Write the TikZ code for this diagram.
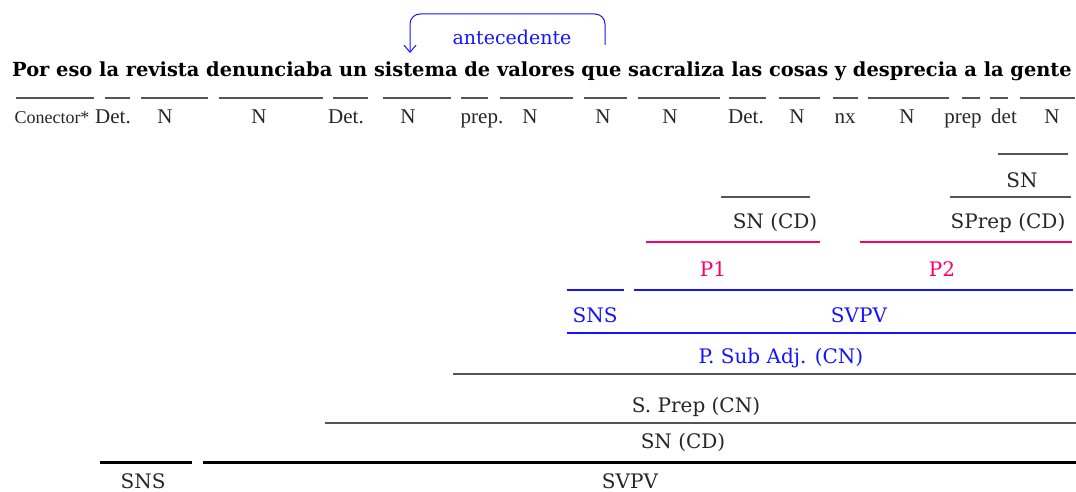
\documentclass[tikz,border=0pt]{standalone}
\usepackage{fontspec}
\setmainfont{DejaVu Serif}
\newfontfamily\tagfont{Liberation Serif}
\usetikzlibrary{arrows.meta}
\definecolor{rosa}{RGB}{255,0,102}
\definecolor{azul}{RGB}{20,20,255}
\definecolor{gris}{RGB}{85,85,85}

\begin{document}
\begin{tikzpicture}[x=1pt,y=-1pt,
                   lbl/.style={anchor=base,inner sep=0pt,text=black!85,font=\fontsize{20}{22}\selectfont},
                   tag/.style={anchor=base,inner sep=0pt,text=black!85,font=\tagfont\fontsize{21}{23}\selectfont},
                   fina/.style={draw=gris,line width=1.3pt},
                   gruesa/.style={line width=2.6pt}]
\useasboundingbox (0,0) rectangle (1076,492);
% oracion
\node[anchor=base,inner sep=0pt,font=\bfseries\fontsize{19.4}{22}\selectfont] (frase) at (542,77)
  {Por eso la revista denunciaba un sistema de valores que sacraliza las cosas y desprecia a la gente};
\node[lbl,text=azul,font=\fontsize{19}{21}\selectfont] (ante) at (512,45) {antecedente};
\coordinate (que) at (605,45);
\coordinate (sistema) at (410,53);
\draw[azul,line width=1pt,-{Straight Barb[length=7pt,width=12pt]},rounded corners=10pt]
  (que) -- (605,14) -- (410,14) -- (sistema);
% categorias
\foreach \a/\b/\c/\t [count=\i] in {105/130/113/Det., 141/208/165/N, 219/323/259/N, 333/368/346/Det.,
    383/451/408/N, 461/488/482/prep., 500/573/530/N, 584/627/603/N, 638/720/670/N,
    729/766/746/Det., 779/820/797/N, 833/858/845/nx, 868/949/907/N, 962/980/963/prep,
    990/1008/1004/det, 1020/1075/1052/N}
{
  \draw[fina] (\a,98) -- (\b,98);
  \node[tag] (c\i) at (\c,124) {\t};
}
\draw[fina] (16,98) -- (94,98);
\node[tag,font=\tagfont\fontsize{18}{20}\selectfont] (con) at (52,124) {Conector*};
% P1 y P2
\draw[fina] (998,154) -- (1068,154);
\node[lbl] (sn) at (1022,187) {SN};
\draw[fina] (721,197) -- (810,197);
\draw[fina] (950,197) -- (1071,197);
\node[lbl] (sncd) at (775,228) {SN (CD)};
\node[lbl] (sprep) at (1008,228) {SPrep (CD)};
\draw[rosa,gruesa] (646,242) -- (820,242);
\draw[rosa,gruesa] (860,242) -- (1072,242);
\node[lbl,text=rosa] (p1) at (713,276) {P1};
\node[lbl,text=rosa] (p2) at (942,276) {P2};
\draw[azul,line width=1.3pt] (567,290) -- (624,290);
\draw[azul,line width=1.3pt] (634,290) -- (1073,290);
\node[lbl,text=azul] (sns) at (595,322) {SNS};
\node[lbl,text=azul] (svpv) at (859,322) {SVPV};
\draw[azul,gruesa] (567,333) -- (1076,333);
\node[lbl,text=azul] (psub) at (781,363) {P. Sub Adj. (CN)};
% niveles de abajo
\draw[gris,line width=2pt] (453,374) -- (1076,374);
\node[lbl] (spcn) at (696,412) {S. Prep (CN)};
\draw[gris,line width=1.6pt] (325,423) -- (1076,423);
\node[lbl] (sncd2) at (683,448) {SN (CD)};
\draw[black,line width=3pt] (100,462) -- (192,462);
\draw[black,line width=3pt] (203,462) -- (1076,462);
\node[lbl] (sns2) at (143,488) {SNS};
\node[lbl] (svpv2) at (630,488) {SVPV};
\end{tikzpicture}
\end{document}
